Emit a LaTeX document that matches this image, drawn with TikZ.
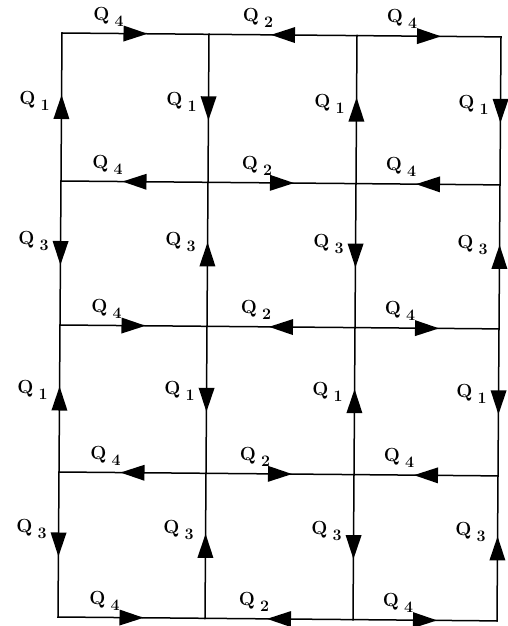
\documentclass[tikz,border=0pt]{standalone}
\usetikzlibrary{calc,decorations.markings}
\newcommand{\qlab}[1]{Q\hspace{5pt}\raisebox{-6pt}{\fontsize{16}{16}\selectfont #1}}
\tikzset{
  edge/.style={line width=1.5pt, line cap=rect, postaction={decorate},
    decoration={markings, mark=at position 0.5 with {\fill (12pt,0pt) -- (-12pt,8pt) -- (-12pt,-8pt) -- cycle;}}},
  lbl/.style={font=\fontsize{19}{19}\selectfont\bfseries, inner sep=0pt}
}
\begin{document}
\begin{tikzpicture}
\useasboundingbox (0,0) rectangle (507pt,-626pt);
\foreach \Y [count=\ii from 0] in {33,181,325,472,617}{
  \foreach \X [count=\jj from 0] in {62,209,357,501}{
    \coordinate (p\ii\jj) at ({(\X-\ii)*1pt}, {(-\Y-1.3*\jj)*1pt});
  }
}
% horizontal edges
\draw[edge] (p00) -- (p01); \draw[edge] (p02) -- (p01); \draw[edge] (p02) -- (p03);
\draw[edge] (p11) -- (p10); \draw[edge] (p11) -- (p12); \draw[edge] (p13) -- (p12);
\draw[edge] (p20) -- (p21); \draw[edge] (p22) -- (p21); \draw[edge] (p22) -- (p23);
\draw[edge] (p31) -- (p30); \draw[edge] (p31) -- (p32); \draw[edge] (p33) -- (p32);
\draw[edge] (p40) -- (p41); \draw[edge] (p42) -- (p41); \draw[edge] (p42) -- (p43);
% vertical edges
\draw[edge] (p10) -- (p00); \draw[edge] (p10) -- (p20); \draw[edge] (p30) -- (p20); \draw[edge] (p30) -- (p40);
\draw[edge] (p01) -- (p11); \draw[edge] (p21) -- (p11); \draw[edge] (p21) -- (p31); \draw[edge] (p41) -- (p31);
\draw[edge] (p12) -- (p02); \draw[edge] (p12) -- (p22); \draw[edge] (p32) -- (p22); \draw[edge] (p32) -- (p42);
\draw[edge] (p03) -- (p13); \draw[edge] (p23) -- (p13); \draw[edge] (p23) -- (p33); \draw[edge] (p43) -- (p33);
% labels
\foreach \i in {0,...,4}{
  \node[lbl] (h\i0) at ($(p\i0)!0.5!(p\i1)+(-27pt,17pt)$) {\qlab{4}};
  \node[lbl] (h\i1) at ($(p\i1)!0.5!(p\i2)+(-25pt,17pt)$) {\qlab{2}};
  \node[lbl] (h\i2) at ($(p\i2)!0.5!(p\i3)+(-27pt,17pt)$) {\qlab{4}};
}
\foreach \j in {0,...,3}{
  \node[lbl] (v0\j) at ($(p0\j)!0.5!(p1\j)+(-27pt,6pt)$) {\qlab{1}};
  \node[lbl] (v1\j) at ($(p1\j)!0.5!(p2\j)+(-27pt,12pt)$) {\qlab{3}};
  \node[lbl] (v2\j) at ($(p2\j)!0.5!(p3\j)+(-27pt,9pt)$) {\qlab{1}};
  \node[lbl] (v3\j) at ($(p3\j)!0.5!(p4\j)+(-27pt,16pt)$) {\qlab{3}};
}
\end{tikzpicture}
\end{document}
